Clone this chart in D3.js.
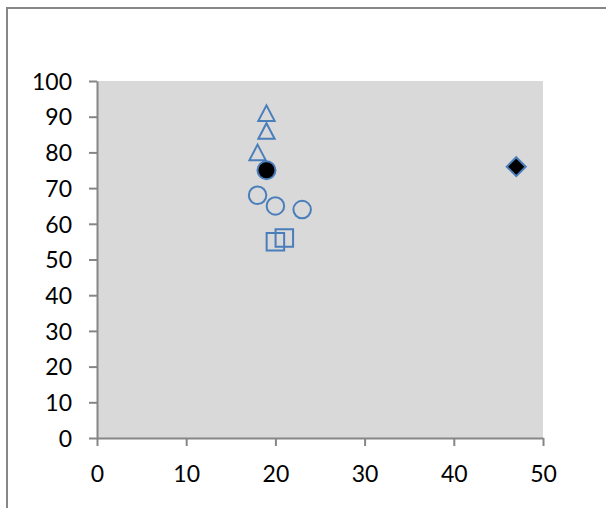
<!DOCTYPE html>
<html>
<head>
<meta charset="utf-8">
<script src="https://cdn.jsdelivr.net/npm/d3@7"></script>
<style>
  html, body { margin: 0; padding: 0; background: #ffffff; }
  svg { display: block; }
  .axis text { font-family: Lato, "Open Sans", sans-serif; font-size: 23px; fill: #000; }
  .axis path, .axis line { stroke: #868686; stroke-width: 2px; }
</style>
</head>
<body>
<svg id="chart" width="606" height="508"></svg>
<script>
// Series values
const triX = [19, 19, 18];
const triY = [91, 86, 80];
const dotX = [19];
const dotY = [75];
const circX = [18, 20, 23];
const circY = [68, 65, 64];
const sqX = [20, 21];
const sqY = [55, 56];
const diaX = [47];
const diaY = [76];

// Axis ticks
const xTicks = [0, 10, 20, 30, 40, 50];
const yTicks = [0, 10, 20, 30, 40, 50, 60, 70, 80, 90, 100];

const svg = d3.select("#chart");
const blue = "#4a7ebb";

// Chart frame (runs past the right and bottom edges)
svg.append("rect")
  .attr("x", 7).attr("y", 8)
  .attr("width", 700).attr("height", 600)
  .attr("fill", "#fff")
  .attr("stroke", "#878787")
  .attr("stroke-width", 2);

const plot = { left: 97, top: 81, right: 543, bottom: 438 };

const x = d3.scaleLinear().domain([0, 50]).range([plot.left, plot.right]);
const y = d3.scaleLinear().domain([0, 100]).range([plot.bottom, plot.top]);

// Plot area background
svg.append("rect")
  .attr("x", plot.left).attr("y", plot.top)
  .attr("width", plot.right - plot.left)
  .attr("height", plot.bottom - plot.top)
  .attr("fill", "#d9d9d9");

// Axes
const yAxis = svg.append("g")
  .attr("class", "axis")
  .attr("transform", `translate(${plot.left},0)`)
  .call(d3.axisLeft(y).tickValues(yTicks).tickSize(8).tickSizeOuter(0).tickPadding(17));
yAxis.selectAll("text").attr("dy", "0.36em");

const xAxis = svg.append("g")
  .attr("class", "axis")
  .attr("transform", `translate(0,${plot.bottom})`)
  .call(d3.axisBottom(x).tickValues(xTicks).tickSize(8).tickSizeOuter(0).tickPadding(20));

// Marker shapes centred on their bounding box
const triangleBox = {
  draw(ctx, size) {
    const h = Math.sqrt(size) / 2;
    ctx.moveTo(0, -h);
    ctx.lineTo(h * 1.05, h);
    ctx.lineTo(-h * 1.05, h);
    ctx.closePath();
  }
};
const squareBox = {
  draw(ctx, size) {
    const h = Math.sqrt(size) / 2;
    ctx.rect(-h, -h, 2 * h, 2 * h);
  }
};
const diamondBox = {
  draw(ctx, size) {
    const h = Math.sqrt(size) / 2;
    ctx.moveTo(0, -h);
    ctx.lineTo(h, 0);
    ctx.lineTo(0, h);
    ctx.lineTo(-h, 0);
    ctx.closePath();
  }
};
const circleBox = {
  draw(ctx, size) {
    const r = Math.sqrt(size) / 2;
    ctx.moveTo(r, 0);
    ctx.arc(0, 0, r, 0, 2 * Math.PI);
  }
};

function series(xs, ys, type, side, fill) {
  const pts = xs.map((v, i) => [v, ys[i]]);
  svg.append("g").selectAll("path")
    .data(pts)
    .join("path")
    .attr("transform", d => `translate(${x(d[0])},${y(d[1])})`)
    .attr("d", d3.symbol().type(type).size(side * side))
    .attr("fill", fill)
    .attr("stroke", blue)
    .attr("stroke-width", 2);
}

series(triX, triY, triangleBox, 15.5, "none");
series(circX, circY, circleBox, 17.5, "none");
series(sqX, sqY, squareBox, 17.5, "none");
series(dotX, dotY, circleBox, 18, "#000");
series(diaX, diaY, diamondBox, 19, "#000");
</script>
</body>
</html>
